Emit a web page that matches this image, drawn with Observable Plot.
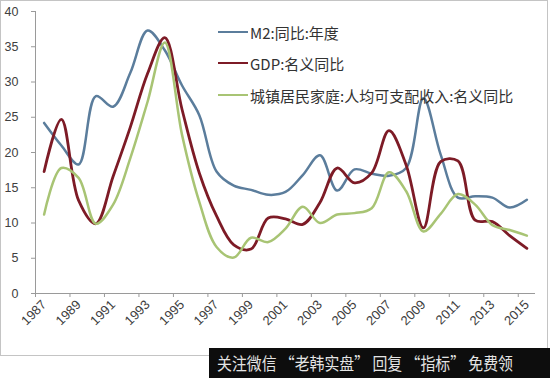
<!DOCTYPE html>
<html>
<head>
<meta charset="utf-8">
<script src="https://cdn.jsdelivr.net/npm/d3@7"></script>
<script src="https://cdn.jsdelivr.net/npm/@observablehq/plot@0.6"></script>
<style>
  body { margin: 0; background: #fff; }
  #wrap { position: relative; width: 550px; height: 378px; overflow: hidden; background: #fff; }
  #chart { position: absolute; left: 0; top: 0; }
  #border { position: absolute; left: 0; top: 0; width: 546px; height: 354px; border: 1px solid #c4c4c4; pointer-events: none; }
  .leg { position: absolute; left: 218px; height: 20px; display: flex; align-items: center;
         font-family: "Noto Sans CJK SC", "Noto Sans", sans-serif; font-size: 15px; color: #333; white-space: nowrap; }
  .leg .sw { width: 30px; height: 0; margin-right: 2px; }
  #wm { position: absolute; left: 209px; top: 348px; }
</style>
</head>
<body>
<div id="wrap">
  <div id="chart"></div>
  <div id="border"></div>
  <div id="legend"></div>
  <svg id="wm" width="341" height="30">
    <rect width="341" height="30" fill="#0d0d0d"></rect>
    <text x="8" y="21.5" textLength="296" lengthAdjust="spacingAndGlyphs" fill="#e4e4e4"
          font-family="Noto Sans CJK SC, sans-serif" font-size="16.5">关注微信 “老韩实盘” 回复 “指标” 免费领</text>
  </svg>
</div>
<script>
// ---- data ----
const years = [1987,1988,1989,1990,1991,1992,1993,1994,1995,1996,1997,1998,1999,2000,2001,2002,2003,2004,2005,2006,2007,2008,2009,2010,2011,2012,2013,2014,2015];
const seriesNames = ["M2:同比:年度", "GDP:名义同比", "城镇居民家庭:人均可支配收入:名义同比"];
const m2     = [24.2,21.0,18.3,28.0,26.5,31.3,37.3,34.5,29.5,25.3,17.3,15.3,14.7,14.0,14.4,16.8,19.6,14.6,17.6,17.0,16.7,17.8,27.7,19.7,13.6,13.8,13.6,12.2,13.3];
const gdp    = [17.3,24.7,13.2,9.9,16.6,23.6,31.2,36.3,26.1,17.1,11.0,6.9,6.3,10.7,10.6,9.8,12.9,17.8,15.7,17.1,23.1,18.2,9.3,18.7,18.8,10.4,10.2,8.2,6.4];
const income = [11.2,17.8,16.4,9.9,12.6,19.2,27.2,35.6,22.5,13.0,6.6,5.1,7.9,7.3,9.2,12.3,10.0,11.2,11.4,12.1,17.2,14.5,8.8,11.3,14.1,12.6,9.7,9.0,8.2];
const yTicks = [0,5,10,15,20,25,30,35,40];
const xLabelYears = [1987,1989,1991,1993,1995,1997,1999,2001,2003,2005,2007,2009,2011,2013,2015];

// ---- styles ----
const colors = ["#5b7d9c", "#7d1b26", "#a8c474"];
const widths = [2.5, 2.8, 2.5];

const allValues = [m2, gdp, income];
const rows = [];
allValues.forEach((vals, i) => vals.forEach((v, j) => rows.push({series: seriesNames[i], year: years[j], value: v})));

const half = 0.5;
const bounds = xLabelYears.map(y => y - half);

const chart = Plot.plot({
  width: 550,
  height: 378,
  marginLeft: 35,
  marginRight: 15,
  marginTop: 11,
  marginBottom: 85,
  x: {domain: [years[0] - half, years[years.length - 1] + half]},
  y: {domain: [0, 40]},
  style: {fontFamily: "'Liberation Sans', Arial, sans-serif", fontSize: "12.5px", color: "#404040", background: "transparent"},
  marks: [
    Plot.axisY({ticks: yTicks, tickSize: 4, tickPadding: 13, stroke: "#9a9a9a", fill: "#404040", label: null, tickFormat: d => String(d)}),
    Plot.axisX({ticks: bounds, tickSize: 4, stroke: "#9a9a9a", tickFormat: () => "", label: null}),
    Plot.axisX({ticks: xLabelYears, tickSize: 0, tickPadding: 9, tickRotate: -45, fill: "#404040", fontSize: 13, label: null, tickFormat: d => String(d)}),
    Plot.ruleX([years[0] - half], {stroke: "#9a9a9a"}),
    Plot.ruleY([0], {stroke: "#9a9a9a"}),
    ...seriesNames.map((name, i) =>
      Plot.line(rows.filter(r => r.series === name), {
        x: "year", y: "value", stroke: colors[i], strokeWidth: widths[i],
        curve: "catmull-rom"
      }))
  ]
});
document.getElementById("chart").appendChild(chart);

// ---- legend ----
const legend = document.getElementById("legend");
const legTops = [22, 53, 85];
seriesNames.forEach((name, i) => {
  const d = document.createElement("div");
  d.className = "leg";
  d.style.top = legTops[i] + "px";
  const sw = document.createElement("span");
  sw.className = "sw";
  sw.style.borderTop = widths[i] + "px solid " + colors[i];
  const t = document.createElement("span");
  t.textContent = name;
  d.appendChild(sw);
  d.appendChild(t);
  legend.appendChild(d);
});
</script>
</body>
</html>
